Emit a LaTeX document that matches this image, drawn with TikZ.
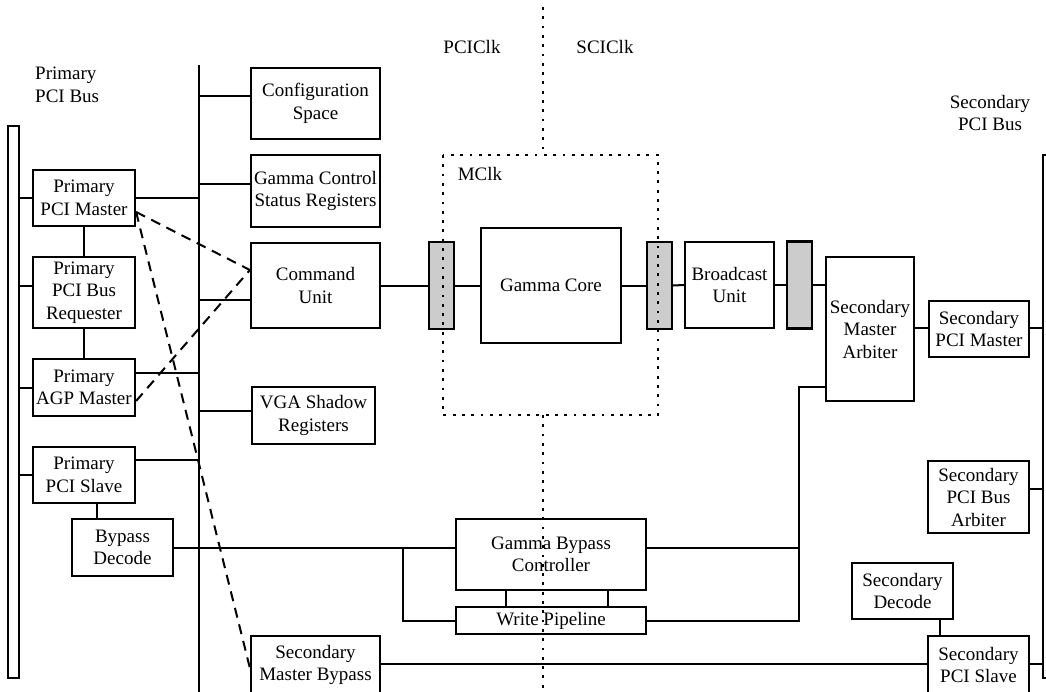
\documentclass[tikz,border=0pt]{standalone}
\usepackage{fontspec}
\setmainfont{Liberation Serif}
\newcommand{\bxfont}{\fontsize{19}{22.5}\selectfont}
\tikzset{
  bx/.style={draw, line width=2.2pt, inner sep=0pt, align=center, font=\bxfont},
  latch/.style={draw, line width=2.2pt, fill=gray!40, inner sep=0pt, minimum width=25, minimum height=87},
  busbar/.style={draw, line width=2pt, inner sep=0pt},
  ln/.style={line width=2pt},
  dsh/.style={line width=2pt, dash pattern=on 10pt off 7pt},
  dot/.style={line width=2.8pt, dash pattern=on 2.8pt off 6.5pt},
  lbl/.style={inner sep=0pt, align=center, font=\bxfont}
}
\begin{document}
\begin{tikzpicture}[x=1pt,y=-1pt]
\useasboundingbox (0,0) rectangle (1046,691);
\clip (0,0) rectangle (1046,691);

% buses
\node[busbar, minimum width=11, minimum height=552] (pbus) at (13.5,402) {};
\node[busbar, minimum width=11, minimum height=523] (sbus) at (1048.5,416.5) {};
\coordinate (vt) at (199,65);
\coordinate (vb) at (199,695);
\draw[ln] (vt) -- (vb);

% labels
\node[lbl, anchor=west, align=left] (lp) at (35,85) {Primary\\PCI Bus};
\node[lbl] (ls) at (990,113) {Secondary\\PCI Bus};
\node[lbl] (lpci) at (472,47) {PCIClk};
\node[lbl] (lsci) at (605,47) {SCIClk};
\node[lbl] (lm) at (480,174) {MClk};

% left boxes
\node[bx, minimum width=102, minimum height=56] (pm) at (84,198) {Primary\\PCI Master};
\node[bx, minimum width=102, minimum height=71] (preq) at (84,292.5) {Primary\\PCI Bus\\Requester};
\node[bx, minimum width=102, minimum height=57] (agp) at (84,387.5) {Primary\\AGP Master};
\node[bx, minimum width=102, minimum height=56] (ps) at (84,475) {Primary\\PCI Slave};
\node[bx, minimum width=101, minimum height=57] (bd) at (122.5,547.5) {Bypass\\Decode};

% middle-left boxes
\node[bx, minimum width=129, minimum height=71] (cs) at (315.5,103.5) {Configuration\\Space};
\node[bx, minimum width=129, minimum height=72] (gcs) at (315.5,191) {Gamma Control\\Status Registers};
\node[bx, minimum width=129, minimum height=85] (cu) at (315.5,285.5) {Command\\Unit};
\node[bx, minimum width=123, minimum height=57] (vga) at (313.5,415.5) {VGA Shadow\\Registers};
\node[bx, minimum width=129, minimum height=58] (smb) at (315.5,665) {Secondary\\Master Bypass};

% core
\node[latch] (l1) at (441.5,285.5) {};
\node[bx, minimum width=140, minimum height=115] (gc) at (551,285.5) {Gamma Core};
\node[latch] (l2) at (659.5,285.5) {};
\node[bx, minimum width=89, minimum height=86] (bu) at (729.5,285) {Broadcast\\Unit};
\node[latch] (l3) at (799.5,285) {};
\node[bx, minimum width=88, minimum height=144] (sma) at (870,329) {Secondary\\Master\\Arbiter};
\node[bx, minimum width=100, minimum height=56] (spm) at (979,329) {Secondary\\PCI Master};
\node[bx, minimum width=101, minimum height=72] (spba) at (978.5,497) {Secondary\\PCI Bus\\Arbiter};
\node[bx, minimum width=101, minimum height=56] (sd) at (902.5,591) {Secondary\\Decode};
\node[bx, minimum width=101, minimum height=58] (sps) at (978.5,665) {Secondary\\PCI Slave};
\node[bx, minimum width=190, minimum height=71] (gbc) at (551,554.5) {Gamma Bypass\\Controller};
\node[bx, minimum width=190, minimum height=27] (wp) at (551,620.5) {Write Pipeline};

% primary bus connections
\draw[ln] (pbus.east |- pm.west) -- (pm.west);
\draw[ln] ([yshift=6.5pt]preq.west -| pbus.east) -- ([yshift=6.5pt]preq.west);
\draw[ln] (pbus.east |- agp.west) -- (agp.west);
\draw[ln] (pbus.east |- ps.west) -- (ps.west);
\draw[ln] (pm.south) -- (preq.north);
\draw[ln] (preq.south) -- (agp.north);
\draw[ln] ([xshift=-25.5pt]bd.north) -- ([xshift=-25.5pt]bd.north |- ps.south);

% to internal vertical bus
\draw[ln] (pm.east) -- (pm.east -| vt);
\draw[ln] ([yshift=14.5pt]agp.east) -- ([yshift=14.5pt]agp.east -| vt);
\draw[ln] ([yshift=15pt]ps.east) -- ([yshift=15pt]ps.east -| vt);
\draw[ln] ([yshift=7.5pt]cs.west -| vt) -- ([yshift=7.5pt]cs.west);
\draw[ln] ([yshift=7pt]gcs.west -| vt) -- ([yshift=7pt]gcs.west);
\draw[ln] ([yshift=-14.5pt]cu.west -| vt) -- ([yshift=-14.5pt]cu.west);
\draw[ln] ([yshift=4.5pt]vga.west -| vt) -- ([yshift=4.5pt]vga.west);

% main datapath
\draw[ln] (cu.east) -- (l1.west);
\draw[ln] (l1.east) -- (gc.west);
\draw[ln] (gc.east) -- (l2.west);
\draw[ln] (l2.east) -- (bu.west);
\draw[ln] (bu.east) -- (l3.west);
\draw[ln] (l3.east) -- (l3.east -| sma.west);
\draw[ln] ([yshift=1pt]sma.east) -- ([yshift=1pt]spm.west);
\draw[ln] ([yshift=1pt]spm.east) -- ([yshift=1pt]spm.east -| sbus.west);

% bypass network
\coordinate (jl) at (403,547.5);
\coordinate (jr) at (799,547.5);
\draw[ln] (bd.east) -- (bd.east -| gbc.west);
\draw[ln] (jl) |- (wp.west);
\draw[ln] (gbc.east |- jr) -- (jr);
\draw[ln] ([yshift=-58pt]sma.west) -| (jr) |- (wp.east);
\draw[ln] ([xshift=-45pt]gbc.south) -- ([xshift=-45pt]wp.north);
\draw[ln] ([xshift=57pt]gbc.south) -- ([xshift=57pt]wp.north);

% secondary side
\draw[ln] ([yshift=8pt]spba.east) -- ([yshift=8pt]spba.east -| sbus.west);
\draw[ln] ([xshift=37.5pt]sd.south) -- ([xshift=37.5pt]sd.south |- sps.north);
\draw[ln] ([yshift=1pt]sps.east) -- ([yshift=1pt]sps.east -| sbus.west);
\draw[ln] ([yshift=1.5pt]smb.east) -- ([yshift=1.5pt]smb.east -| sps.west);

% dashed control lines
\draw[dsh] ([yshift=-14pt]pm.east) -- ([yshift=15.5pt]cu.west);
\draw[dsh] ([yshift=-13.5pt]agp.east) -- ([yshift=15.5pt]cu.west);
\draw[dsh] ([yshift=-14pt]pm.east) -- ([yshift=-3pt]smb.west);

% clock domains
\coordinate (dt) at (543,7);
\coordinate (mtl) at (443,155);
\coordinate (mbr) at (658,415);
\coordinate (db) at (543,695);
\draw[dot] (dt) -- (dt |- mtl);
\draw[dot] (mtl) rectangle (mbr);
\draw[dot] (dt |- mbr) -- (db);
\end{tikzpicture}
\end{document}
